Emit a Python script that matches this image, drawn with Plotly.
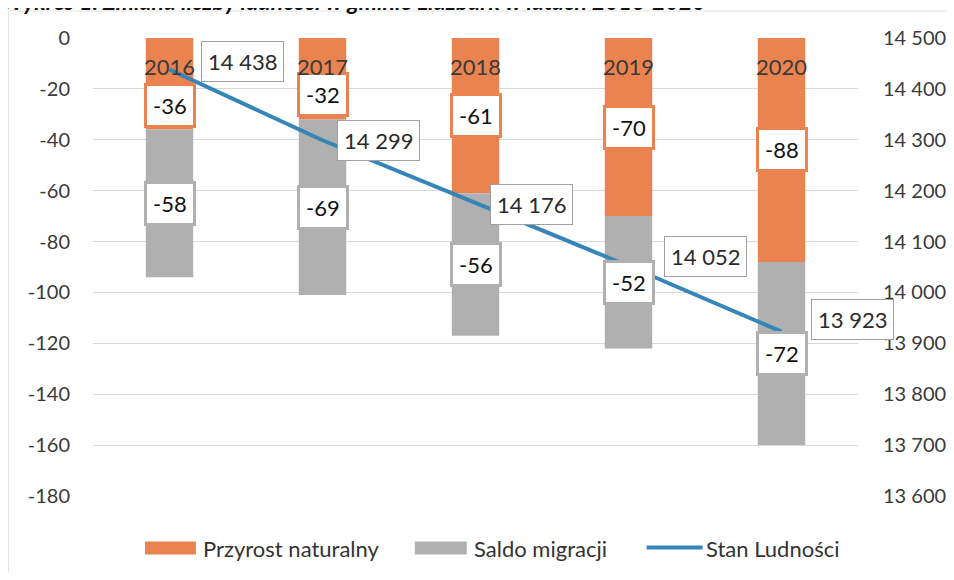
import plotly.graph_objects as go

years = ["2016", "2017", "2018", "2019", "2020"]
przyrost = [-36, -32, -61, -70, -88]
saldo = [-58, -69, -56, -52, -72]
stan = [14438, 14299, 14176, 14052, 13923]

left_ticks = [0, -20, -40, -60, -80, -100, -120, -140, -160, -180]
right_ticks = [14500, 14400, 14300, 14200, 14100, 14000, 13900, 13800, 13700, 13600]

names = ["Przyrost naturalny", "Saldo migracji", "Stan Ludności"]
title = "Wykres 1. Zmiana liczby ludności w gminie Lidzbark w latach 2016-2020"

ORANGE = "#EA8350"
GREY = "#B0B0B0"
BLUE = "#3585B8"
FONT = "Lato"

# the page body has an 8px margin, so the figure is a bit smaller than the window
OFF = 8
W, H = 938, 564
L, R, T, B = 85, 87.5, 30, 75.5

# label nudges in pixels (positive = up / right)
orange_dy = [-22, -16, 0, 0, 0]
stan_dx = [31, 14, 14, 35, 29]
stan_dy = [8, 0, -2, 9, 12]


def fmt(v):
    return f"{v:,}".replace(",", " ")


# screen pixel -> paper coords
def px(x):
    return (x - OFF - L) / (W - L - R)


def py(y):
    return 1 - (y - OFF - T) / (H - T - B)


fig = go.Figure()

fig.add_trace(go.Bar(
    x=years, y=przyrost, name=names[0],
    marker=dict(color=ORANGE, line=dict(width=0)), width=0.31, yaxis="y",
))
fig.add_trace(go.Bar(
    x=years, y=saldo, name=names[1],
    marker=dict(color=GREY, line=dict(width=0)), width=0.31, yaxis="y",
))
fig.add_trace(go.Scatter(
    x=years, y=stan, name=names[2], mode="lines",
    line=dict(color=BLUE, width=4), yaxis="y2",
))

lab_font = dict(family=FONT, size=22, color="#111111")
annotations = []
for i, yr in enumerate(years):
    # category axis -> annotations use the category index
    p = przyrost[i]
    s = saldo[i]
    annotations.append(dict(
        x=i, y=p / 2, xref="x", yref="y", text=str(p), showarrow=False,
        yshift=orange_dy[i],
        bgcolor="white", bordercolor=ORANGE, borderwidth=3, borderpad=6,
        font=lab_font,
    ))
    annotations.append(dict(
        x=i, y=p + s / 2, xref="x", yref="y", text=str(s), showarrow=False,
        bgcolor="white", bordercolor=GREY, borderwidth=3, borderpad=6,
        font=lab_font,
    ))
    annotations.append(dict(
        x=i, y=stan[i], xref="x", yref="y2", text=fmt(stan[i]), showarrow=False,
        xanchor="left", xshift=stan_dx[i], yshift=stan_dy[i],
        bgcolor="white", bordercolor="#a0a0a0", borderwidth=1, borderpad=6,
        font=dict(family=FONT, size=22, color="#2a2a2a"),
    ))

# year labels under the zero line, drawn over the value boxes
for i, yr in enumerate(years):
    annotations.append(dict(
        x=i, y=0, xref="x", yref="y", text=yr, showarrow=False,
        yanchor="top", yshift=-13, font=dict(family=FONT, size=22, color="#3a3a3a"),
    ))

# title, mostly cut off at the top of the scan
annotations.append(dict(
    x=px(-1), y=py(0.5), xref="paper", yref="paper", xanchor="left", yanchor="middle",
    showarrow=False, text=f"<b><i>{title}</i></b>",
    font=dict(family=FONT, size=23, color="#111111"),
))

# hand-made legend with wide swatches
leg_font = dict(family=FONT, size=22, color="#333333")
shapes = [
    dict(type="rect", xref="paper", yref="paper", x0=px(145), x1=px(196),
         y0=py(555), y1=py(542), fillcolor=ORANGE, line=dict(width=0)),
    dict(type="rect", xref="paper", yref="paper", x0=px(415), x1=px(467),
         y0=py(555), y1=py(542), fillcolor=GREY, line=dict(width=0)),
    dict(type="line", xref="paper", yref="paper", x0=px(647), x1=px(703),
         y0=py(548), y1=py(548), line=dict(color=BLUE, width=4)),
    # faint frame of the chart area
    dict(type="line", xref="paper", yref="paper", x0=px(8.5), x1=px(954),
         y0=py(11), y1=py(11), line=dict(color="#E4E4E4", width=1)),
    dict(type="line", xref="paper", yref="paper", x0=px(8.5), x1=px(8.5),
         y0=py(11), y1=py(580), line=dict(color="#E4E4E4", width=1)),
]
for name, x0 in zip(names, [201, 472, 704]):
    annotations.append(dict(
        x=px(x0), y=py(549), xref="paper", yref="paper", xanchor="left",
        yanchor="middle", showarrow=False, text=name, font=leg_font,
    ))

fig.update_layout(
    width=W, height=H,
    margin=dict(l=L, r=R, t=T, b=B),
    paper_bgcolor="white", plot_bgcolor="white",
    barmode="relative",
    showlegend=False,
    font=dict(family=FONT, size=22, color="#404040"),
    xaxis=dict(type="category", range=[-0.5, 4.5], showticklabels=False,
               showline=False, showgrid=False, ticks="", automargin=False),
    yaxis=dict(
        range=[-180, 0], tickvals=left_ticks, ticktext=[str(t) for t in left_ticks],
        showgrid=True, gridcolor="#D9D9D9", gridwidth=1, zeroline=False,
        tickfont=dict(family=FONT, size=20, color="#3a3a3a"),
        ticklabelstandoff=22, automargin=False,
    ),
    yaxis2=dict(
        range=[13600, 14500], overlaying="y", side="right",
        tickvals=right_ticks, ticktext=[fmt(t) for t in right_ticks],
        showgrid=False, zeroline=False,
        tickfont=dict(family=FONT, size=20, color="#3a3a3a"),
        ticklabelstandoff=24, automargin=False,
    ),
    shapes=shapes,
    annotations=annotations,
)

fig.write_html("out.html")
